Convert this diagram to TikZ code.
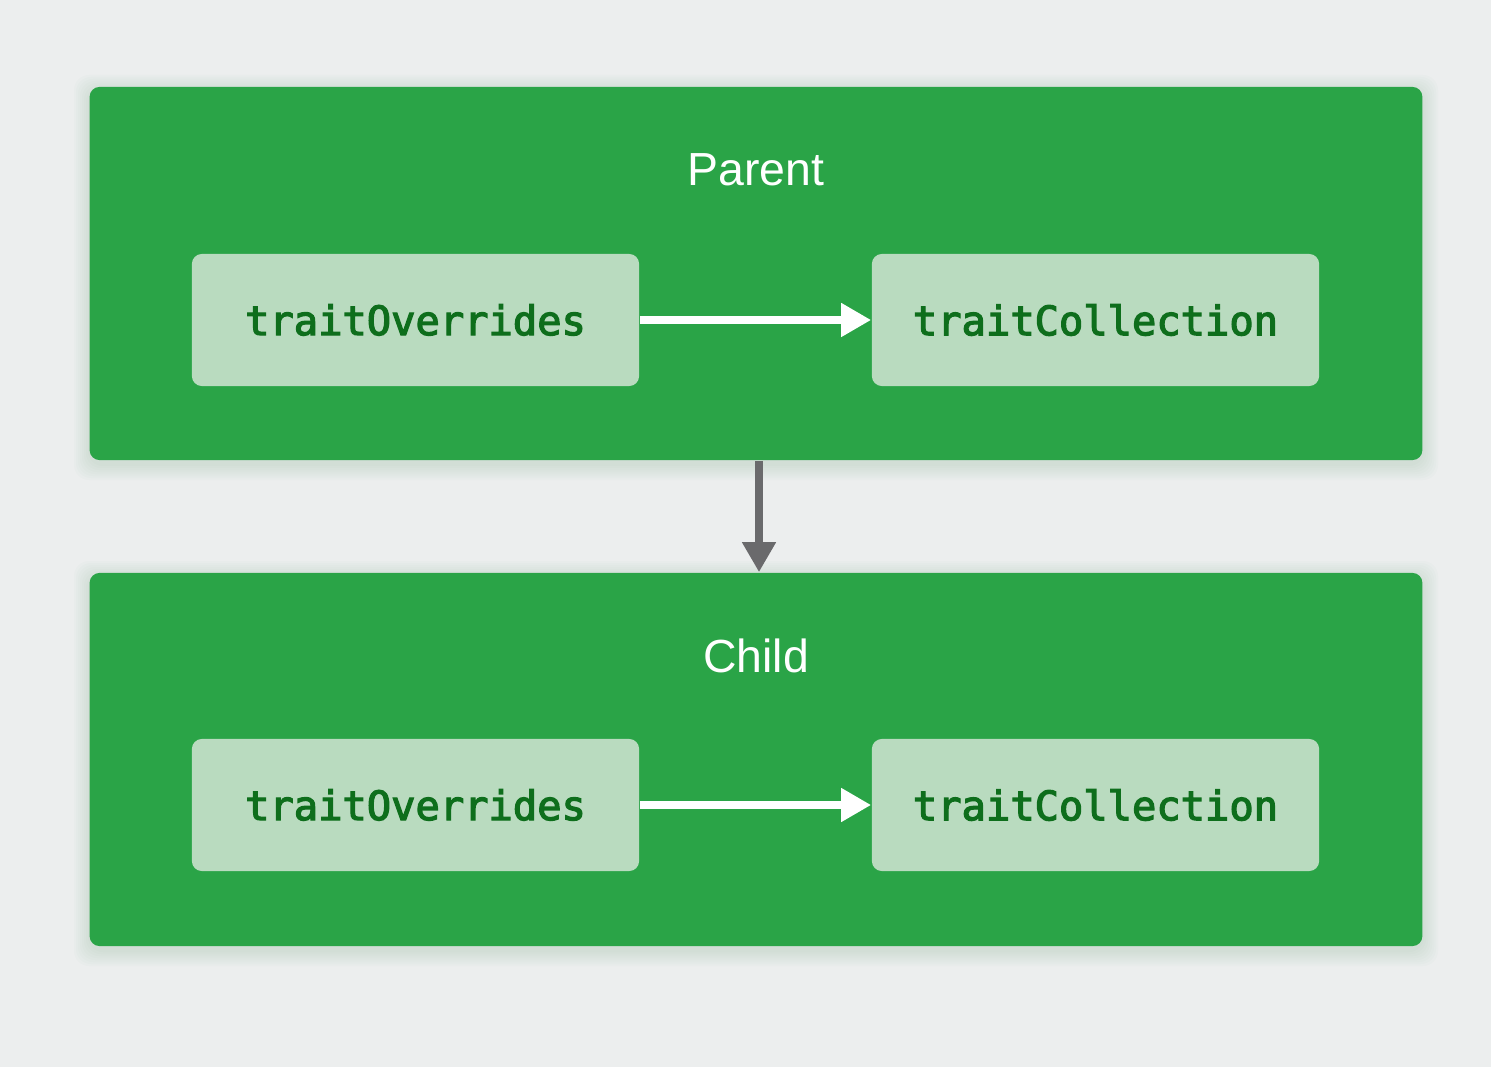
\documentclass[tikz,border=0pt]{standalone}
\usepackage{fontspec}
\usetikzlibrary{arrows.meta,positioning}
\newfontfamily\titlefont{Liberation Sans}
\newfontfamily\codefont[FakeBold=3]{DejaVu Sans Mono}
\definecolor{bgcol}{HTML}{ECEEEE}
\definecolor{boxgreen}{HTML}{2AA447}
\definecolor{innergreen}{HTML}{B9DBBF}
\definecolor{codegreen}{HTML}{0E6E1C}
\definecolor{arrowgray}{HTML}{6A6A6C}
\tikzset{
  layer/.style={fill=boxgreen,rounded corners=0.1cm,minimum width=13.32cm,minimum height=3.73cm,inner sep=0pt},
  title/.style={text=white,font=\titlefont\fontsize{13.2}{16}\selectfont},
  field/.style={fill=innergreen,rounded corners=0.1cm,minimum width=4.47cm,minimum height=1.32cm,inner sep=0pt,
    text=codegreen,font=\codefont\fontsize{11.5}{13}\selectfont},
  flow/.style={white,line width=0.08cm,-{Triangle[length=0.3cm,width=0.32cm]}},
  pass/.style={arrowgray,line width=0.08cm,-{Triangle[length=0.3cm,width=0.32cm]}}
}
\begin{document}
\begin{tikzpicture}[x=0.01cm,y=-0.01cm]
	\fill[bgcol] (0,0) rectangle (1491,1067);
	\useasboundingbox (0,0) rectangle (1491,1067);
	% soft shadows
	\foreach \d in {2,4,...,16}
	{\fill[boxgreen!60!gray,opacity=0.02,rounded corners=0.15cm] (90-\d,87-\d+4) rectangle (1422+\d,460+\d+4);
	 \fill[boxgreen!60!gray,opacity=0.02,rounded corners=0.15cm] (90-\d,573-\d+4) rectangle (1422+\d,946+\d+4);}
	% parent
	\node[layer] (parent) at (756,273.5) {};
	\node[title] (parentlabel) at (756,170) {Parent};
	\node[field] (povr) at (415.5,320) {\raisebox{-0.5ex}{traitOverrides}};
	\node[field] (pcol) at (1095.5,320) {\raisebox{-0.5ex}{traitCollection}};
	\draw[flow] (povr) -- (pcol);
	% child
	\node[layer] (child) at (756,759.5) {};
	\node[title] (childlabel) at (756,656) {Child};
	\node[field] (covr) at (415.5,805) {\raisebox{-0.5ex}{traitOverrides}};
	\node[field] (ccol) at (1095.5,805) {\raisebox{-0.5ex}{traitCollection}};
	\draw[flow] (covr) -- (ccol);
	\draw[pass] (parent.south -| 759,0) -- (child.north -| 759,0);
\end{tikzpicture}
\end{document}
